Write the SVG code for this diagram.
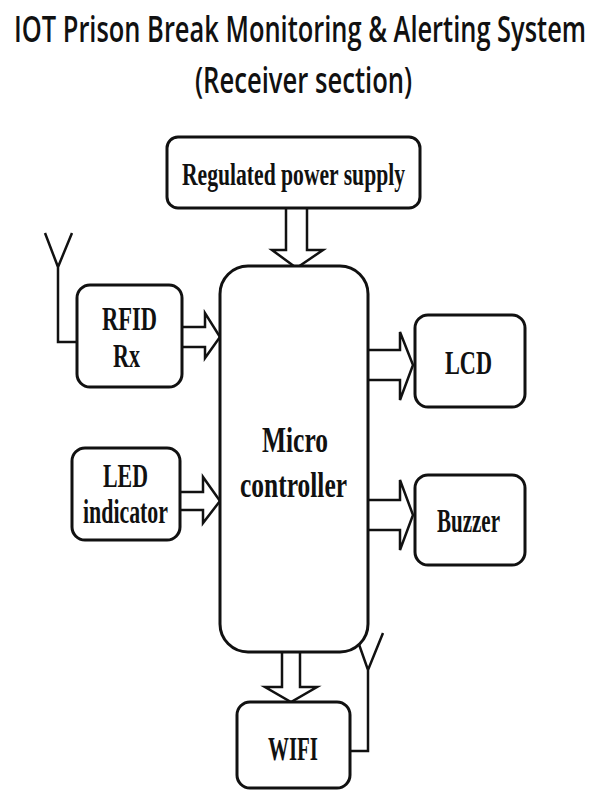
<svg xmlns="http://www.w3.org/2000/svg" width="598" height="791" viewBox="0 0 598 791">
<style>
.box{fill:#fff;stroke:#111;stroke-width:3}
.lbl{font-family:"Liberation Serif","Times New Roman",serif;font-weight:bold;fill:#111;text-anchor:start}
.ttl{font-family:"Open Sans","Liberation Sans",sans-serif;font-weight:600;fill:#111}
.arr{fill:#fff;stroke:#111;stroke-width:2.5;stroke-linejoin:miter}
.wire{fill:none;stroke:#111;stroke-width:2.5}
</style>
<rect width="598" height="791" fill="#fff"/>
<g id="title">
<text class="ttl" transform="translate(14,42) scale(0.708,1)" x="0" y="0" font-size="36" textLength="808" lengthAdjust="spacingAndGlyphs">IOT Prison Break Monitoring &amp; Alerting System</text>
<text class="ttl" transform="translate(195,93) scale(0.61,1)" x="0" y="0" font-size="36" textLength="356" lengthAdjust="spacingAndGlyphs">(Receiver section)</text>
</g>
<g id="connectors">
<path class="arr" d="M286,208 V250 H272 L296.5,268 L323,250 H307 V208"/>
<path class="arr" d="M182,327 H205 V313 L220,337 L205,358 V347 H182"/>
<path class="arr" d="M180,492 H203 V477 L220,501 L203,523 V510 H180"/>
<path class="arr" d="M368,350 H400 V332 L413,365 L400,400 V380 H368"/>
<path class="arr" d="M368,500 H400 V480 L413,515 L400,550 V530 H368"/>
<path class="arr" d="M282,652 V687 H265 L291,702 L317,687 H300 V652"/>
<path class="wire" d="M45,233 L58,267 L72,233 M58,267 V342 H77"/>
<path class="wire" d="M355,633 L368,670 L383,633 M368,670 V751 H350"/>
</g>
<g id="power">
<rect class="box" x="167" y="137" width="253" height="71" rx="11"/>
<text class="lbl" x="182" y="185" font-size="32" textLength="223" lengthAdjust="spacingAndGlyphs">Regulated power supply</text>
</g>
<g id="mcu">
<rect class="box" x="220" y="266" width="148" height="386" rx="28"/>
<text class="lbl" x="262" y="452" font-size="35" textLength="66" lengthAdjust="spacingAndGlyphs">Micro</text>
<text class="lbl" x="240" y="497" font-size="35" textLength="107" lengthAdjust="spacingAndGlyphs">controller</text>
</g>
<g id="rfid">
<rect class="box" x="77" y="285" width="105" height="102" rx="13"/>
<text class="lbl" x="102" y="330" font-size="33" textLength="55" lengthAdjust="spacingAndGlyphs">RFID</text>
<text class="lbl" x="113" y="367" font-size="33" textLength="27" lengthAdjust="spacingAndGlyphs">Rx</text>
</g>
<g id="led">
<rect class="box" x="72" y="448" width="108" height="92" rx="13"/>
<text class="lbl" x="103" y="487" font-size="33" textLength="45" lengthAdjust="spacingAndGlyphs">LED</text>
<text class="lbl" x="83" y="523" font-size="33" textLength="85" lengthAdjust="spacingAndGlyphs">indicator</text>
</g>
<g id="lcd">
<rect class="box" x="415" y="315" width="110" height="92" rx="13"/>
<text class="lbl" x="445" y="374" font-size="33" textLength="47" lengthAdjust="spacingAndGlyphs">LCD</text>
</g>
<g id="buzzer">
<rect class="box" x="415" y="475" width="110" height="90" rx="13"/>
<text class="lbl" x="437" y="532" font-size="33" textLength="63" lengthAdjust="spacingAndGlyphs">Buzzer</text>
</g>
<g id="wifi">
<rect class="box" x="237" y="702" width="113" height="86" rx="13"/>
<text class="lbl" x="268" y="760" font-size="33" textLength="50" lengthAdjust="spacingAndGlyphs">WIFI</text>
</g>
</svg>
